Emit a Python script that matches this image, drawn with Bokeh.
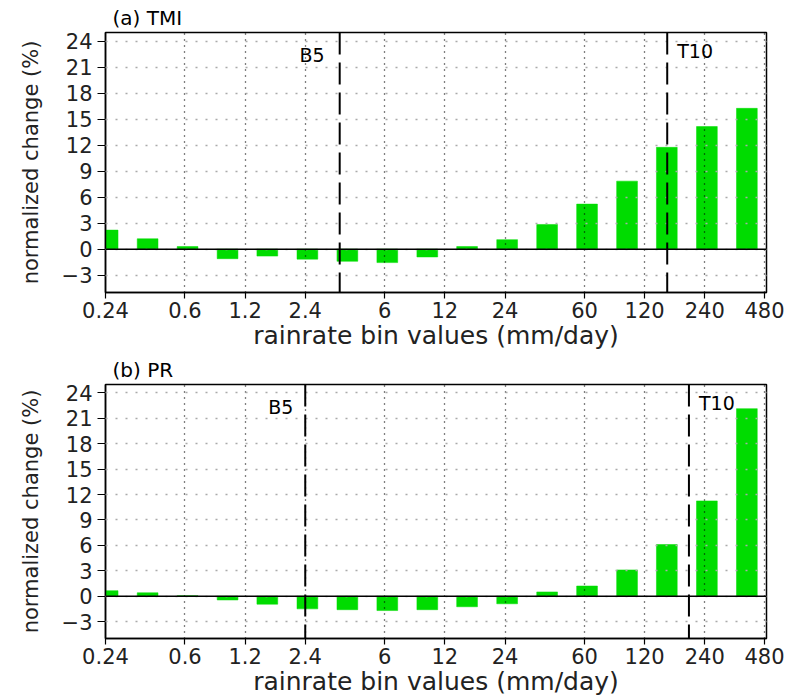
from bokeh.plotting import figure
from bokeh.models import Range1d, FixedTicker, Span, Label, ColumnDataSource
from bokeh.layouts import column
from bokeh.embed import file_html
from bokeh.resources import INLINE

# ---------------- data ----------------
bin_centers = [0.246, 0.39, 0.618, 0.98, 1.55, 2.46, 3.9, 6.18, 9.8, 15.5,
               24.6, 39.0, 61.8, 98.0, 155.0, 246.0, 390.0]
tmi_change = [2.2, 1.2, 0.3, -1.1, -0.8, -1.15, -1.4, -1.55, -0.9, 0.3,
              1.1, 2.85, 5.2, 7.85, 11.75, 14.15, 16.25]
pr_change = [0.65, 0.4, 0.05, -0.45, -0.95, -1.5, -1.6, -1.7, -1.6, -1.25,
             -0.9, 0.5, 1.2, 3.1, 6.1, 11.25, 22.15]
x_ticks = [0.24, 0.6, 1.2, 2.4, 6, 12, 24, 60, 120, 240, 480]
x_tick_labels = ["0.24", "0.6", "1.2", "2.4", "6", "12", "24", "60", "120", "240", "480"]
y_ticks = [-3, 0, 3, 6, 9, 12, 15, 18, 21, 24]
tmi_b5, tmi_t10 = 3.57, 155.7
pr_b5, pr_t10 = 2.4, 200.0
panel_titles = ["(a)  TMI", "(b)  PR"]

FONT = "DejaVu Sans"
BAR_HALF = 10 ** 0.052
X_MIN, X_MAX, Y_MIN, Y_MAX = 0.24, 489, -5, 25


def make_panel(title, values, b5, t10, height, top, bottom, b5_off, t10_off):
    p = figure(width=784, height=height, x_axis_type="log",
               x_range=Range1d(X_MIN, X_MAX), y_range=Range1d(Y_MIN, Y_MAX),
               output_backend="svg", toolbar_location=None,
               min_border_left=105, min_border_right=18,
               min_border_top=top, min_border_bottom=bottom)
    p.background_fill_color = "white"
    p.border_fill_color = "white"
    p.outline_line_color = "black"
    p.outline_line_width = 1.5

    src = ColumnDataSource(dict(
        left=[c / BAR_HALF for c in bin_centers],
        right=[c * BAR_HALF for c in bin_centers],
        top=[max(v, 0) for v in values],
        bottom=[min(v, 0) for v in values],
    ))
    p.quad(left="left", right="right", top="top", bottom="bottom", source=src,
           fill_color="#00dc00", line_color="#00dc00", line_width=0.5)

    # title
    p.title.text = title
    p.title.text_font = FONT
    p.title.text_font_size = "20px"
    p.title.text_font_style = "normal"
    p.title.text_color = "black"
    p.title.align = "left"
    p.title.offset = 7
    p.title.standoff = 5

    # axes
    p.xaxis.ticker = FixedTicker(ticks=x_ticks)
    p.xaxis.major_label_overrides = {t: l for t, l in zip(x_ticks, x_tick_labels)}
    p.yaxis.ticker = FixedTicker(ticks=y_ticks)
    for ax in (p.xaxis, p.yaxis):
        ax.axis_line_color = "black"
        ax.axis_line_width = 1.5
        ax.major_tick_line_color = "black"
        ax.major_tick_line_width = 1.2
        ax.major_tick_in = 0
        ax.minor_tick_in = 0
        ax.minor_tick_out = 0
        ax.major_label_text_font = FONT
        ax.major_label_text_font_size = "21px"
        ax.major_label_text_color = "#222222"
        ax.axis_label_text_font = FONT
        ax.axis_label_text_font_style = "normal"
        ax.axis_label_text_color = "#222222"
    p.xaxis.major_tick_out = 6
    p.yaxis.major_tick_out = 8
    p.xaxis.major_label_standoff = 3
    p.yaxis.major_label_standoff = 5
    p.xaxis.axis_label = "rainrate bin values (mm/day)"
    p.yaxis.axis_label = "normalized change (%)"
    p.xaxis.axis_label_text_font_size = "25px"
    p.yaxis.axis_label_text_font_size = "21px"
    p.xaxis.axis_label_standoff = 0
    p.yaxis.axis_label_standoff = 16

    # grids
    p.xgrid.ticker = FixedTicker(ticks=x_ticks)
    p.xgrid.grid_line_color = "black"
    p.xgrid.grid_line_dash = "1 5"
    p.xgrid.grid_line_width = 1.3
    p.xgrid.level = "overlay"
    p.ygrid.ticker = FixedTicker(ticks=y_ticks)
    p.ygrid.grid_line_color = "#aaaaaa"
    p.ygrid.grid_line_dash = "2 8"
    p.ygrid.grid_line_width = 1.3
    p.ygrid.level = "overlay"

    # thresholds and zero line (drawn above the grids)
    for loc in (b5, t10):
        p.add_layout(Span(location=loc, dimension="height", line_color="black",
                          line_width=2, line_dash="22 8", level="overlay"))
    p.add_layout(Span(location=0, dimension="width", line_color="black",
                      line_width=1.5, line_dash="solid", level="overlay"))
    p.add_layout(Label(x=b5, y=23.7, x_offset=b5_off, text="B5", text_align="right",
                       text_baseline="top", text_font=FONT, text_font_size="19px",
                       text_color="black"))
    p.add_layout(Label(x=t10, y=24.1, x_offset=t10_off, text="T10", text_align="left",
                       text_baseline="top", text_font=FONT, text_font_size="19px",
                       text_color="black"))
    return p


p1 = make_panel(panel_titles[0], tmi_change, tmi_b5, tmi_t10, 353, 32, 61, -15, 10)
p2 = make_panel(panel_titles[1], pr_change, pr_b5, pr_t10, 346, 25, 61, -12, 10)

layout = column(p1, p2, spacing=0)
open("out.html", "w").write(file_html(layout, INLINE))
